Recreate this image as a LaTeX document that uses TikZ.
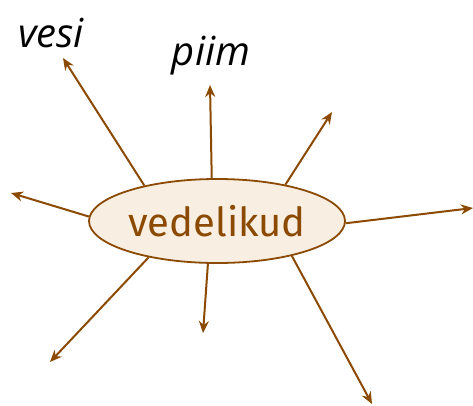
\documentclass[tikz,border=0pt]{standalone}
\usepackage{fontspec}
\setmainfont{Fira Sans}
\newfontfamily\handfont{Open Sans}
\usetikzlibrary{arrows.meta,shapes.geometric}
\definecolor{liqbrown}{HTML}{8B4A00}
\definecolor{liqfill}{HTML}{F8EEE1}

\begin{document}
\begin{tikzpicture}[
  x=1pt,y=-1pt,
  >={Stealth[length=12pt,width=10pt]},
  hub/.style={
    ellipse,draw=liqbrown,fill=liqfill,line width=1.8pt,
    minimum width=256pt,minimum height=84pt,inner sep=0pt,
    text=liqbrown,font=\fontsize{40}{44}\selectfont
  },
  spoke/.style={->,draw=liqbrown,line width=2pt},
  word/.style={font=\handfont\itshape\fontsize{40}{44}\selectfont,text=black}
]
\useasboundingbox (0,0) rectangle (473,405);

% ---- centre ----
\node[hub] (liq) at (217,221) {vedelikud};

% ---- free ends of the spokes ----
\coordinate (e1) at (63,58);
\coordinate (e2) at (210,85);
\coordinate (e3) at (332,112);
\coordinate (e4) at (11,193);
\coordinate (e5) at (473,208);
\coordinate (e6) at (50,362);
\coordinate (e7) at (203,333);
\coordinate (e8) at (372,404);

\draw[spoke] (liq.154) -- (e1);
\draw[spoke] (liq.97)  -- (e2);
\draw[spoke] (liq.28)  -- (e3);
\draw[spoke] (liq.178) -- (e4);
\draw[spoke] (liq.359) -- (e5);
\draw[spoke] (liq.208) -- (e6);
\draw[spoke] (liq.258) -- (e7);
\draw[spoke] (liq.335) -- (e8);

% ---- words written at the tips ----
\node[word] (vesi) at (51,33) {vesi};
\node[word] (piim) at (211,56) {piim};

\end{tikzpicture}
\end{document}
